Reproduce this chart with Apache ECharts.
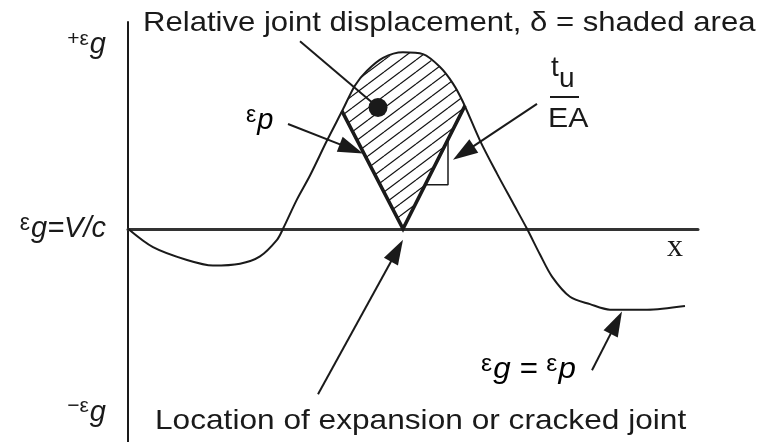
<!DOCTYPE html>
<html>
<head>
<meta charset="utf-8">
<script src="https://cdn.jsdelivr.net/npm/echarts@6/dist/echarts.min.js"></script>
<style>
html, body { margin: 0; padding: 0; background: #fff; }
#main { width: 771px; height: 442px; }
</style>
</head>
<body>
<div id="main"></div>
<script>
// ground strain along the pipe (y in units of eps_g)
var strainX = [0, 2.5, 5.9, 8.5, 11.2, 13.2, 14.9, 15.5, 16.9, 18.2, 19.9, 21.5, 22.7, 23.9, 25.5, 27.5,
    29.5, 31.2, 32.5, 33.5, 35.2, 36.9, 38.5, 39.9, 41.2, 42.4, 44.2, 46.2, 48.2, 51.9, 55.7];
var strainY = [0, -0.10, -0.17, -0.20, -0.19, -0.15, -0.06, 0.0, 0.16, 0.29, 0.48, 0.65, 0.78, 0.86, 0.93, 0.96,
    0.95, 0.88, 0.79, 0.69, 0.48, 0.30, 0.14, 0.0, -0.14, -0.26, -0.37, -0.41, -0.44, -0.44, -0.42];

// pipe strain εp, V at the joint
var pipeX = [21.4, 27.5, 33.7];
var pipeY = [0.64, 0, 0.67];

// slope tu/EA triangle
var slopeX = [29.7, 32.0, 32.0];
var slopeY = [0.24, 0.24, 0.486];

// dot in the shaded area
var dotPoint = [25.0, 0.66];

// arrows: start, tip, head or not
var arrowFrom = [[17.2, 1.02], [16.0, 0.57], [40.9, 0.68], [19.0, -0.90], [46.4, -0.77]];
var arrowTo = [[25.0, 0.66], [23.5, 0.41], [32.5, 0.375], [27.5, -0.06], [49.4, -0.45]];
var arrowHead = [0, 1, 1, 1, 1];

// y axis ticks
var yTickValues = [1, 0, -1];
var yTickLabels = ['{s|+ε}{g|g}', '{e|ε}{g|g=V/c}', '{s|−ε}{g|g}'];

var INK = '#1a1a1a';
var SANS = '"Liberation Sans", Arial, sans-serif';

function zip(xs, ys) {
    return xs.map(function (x, i) { return [x, ys[i]]; });
}

// shaded area = between strain curve and the V
var hatchPoly = [[pipeX[0], pipeY[0]]];
strainX.forEach(function (x, i) {
    if (x > pipeX[0] && x < pipeX[2]) hatchPoly.push([x, strainY[i]]);
});
hatchPoly.push([pipeX[2], pipeY[2]]);
hatchPoly.push([pipeX[1], pipeY[1]]);

function makeHatch() {
    var c = document.createElement('canvas');
    c.width = 16;
    c.height = 12;
    var ctx = c.getContext('2d');
    ctx.strokeStyle = '#111';
    ctx.lineWidth = 1.2;
    [-12, 0, 12].forEach(function (oy) {
        ctx.beginPath();
        ctx.moveTo(0, 12 + oy);
        ctx.lineTo(16, oy);
        ctx.stroke();
    });
    return c;
}
var hatchImg = makeHatch();

function renderHatch(params, api) {
    var pts = hatchPoly.map(function (p) { return api.coord(p); });
    return {
        type: 'polygon',
        shape: { points: pts },
        style: { fill: { image: hatchImg, repeat: 'repeat' }, stroke: null }
    };
}

function renderArrow(params, api) {
    var a = api.coord([api.value(0), api.value(1)]);
    var b = api.coord([api.value(2), api.value(3)]);
    var dx = b[0] - a[0], dy = b[1] - a[1];
    var len = Math.sqrt(dx * dx + dy * dy);
    var ux = dx / len, uy = dy / len;
    var end = b;
    var kids = [];
    if (api.value(4)) {
        var hl = 25, hw = 8;
        var bx = b[0] - ux * hl, by = b[1] - uy * hl;
        end = [bx + ux * 3, by + uy * 3];
        kids.push({
            type: 'polygon',
            shape: { points: [b, [bx - uy * hw, by + ux * hw], [bx + uy * hw, by - ux * hw]] },
            style: { fill: INK }
        });
    }
    kids.unshift({
        type: 'line',
        shape: { x1: a[0], y1: a[1], x2: end[0], y2: end[1] },
        style: { stroke: INK, lineWidth: 2 }
    });
    return { type: 'group', children: kids };
}

// small raised ε / + / − next to the big italic letter
var epsRich = {
    e: { fontFamily: SANS, fontSize: 23, color: INK, padding: [0, 1, 10, 0] },
    s: { fontFamily: SANS, fontSize: 21, color: INK, padding: [0, 1, 12, 0] },
    g: { fontFamily: SANS, fontSize: 29, fontStyle: 'italic', color: INK }
};

var chart = echarts.init(document.getElementById('main'));

var option = {
    animation: false,
    backgroundColor: '#fff',
    grid: { left: 128, right: 73, top: 22, bottom: 0 },
    xAxis: {
        type: 'value',
        min: 0,
        max: 57,
        axisLine: { show: true, onZero: true, lineStyle: { color: '#333', width: 3 } },
        axisTick: { show: false },
        axisLabel: { show: false },
        splitLine: { show: false }
    },
    yAxis: {
        type: 'value',
        min: -1.16,
        max: 1.125,
        axisLine: { show: true, lineStyle: { color: INK, width: 2 } },
        axisTick: { show: false },
        splitLine: { show: false },
        axisLabel: {
            customValues: yTickValues,
            margin: 22,
            formatter: function (v) {
                return yTickLabels[yTickValues.indexOf(v)];
            },
            rich: epsRich
        }
    },
    series: [
        {
            type: 'custom',
            name: 'shaded',
            renderItem: renderHatch,
            data: [[pipeX[1], pipeY[1]]],
            z: 1,
            silent: true
        },
        {
            type: 'line',
            name: 'ground strain',
            data: zip(strainX, strainY),
            smooth: 0.3,
            symbol: 'none',
            lineStyle: { color: INK, width: 2 },
            z: 2
        },
        {
            type: 'line',
            name: 'pipe strain',
            data: zip(pipeX, pipeY),
            symbol: 'none',
            lineStyle: { color: INK, width: 3.5, join: 'miter' },
            z: 3
        },
        {
            type: 'line',
            name: 'slope',
            data: zip(slopeX, slopeY),
            symbol: 'none',
            lineStyle: { color: INK, width: 1.5 },
            z: 3
        },
        {
            type: 'custom',
            name: 'arrows',
            renderItem: renderArrow,
            encode: { x: [0, 2], y: [1, 3] },
            data: arrowFrom.map(function (f, i) {
                return [f[0], f[1], arrowTo[i][0], arrowTo[i][1], arrowHead[i]];
            }),
            z: 4
        },
        {
            type: 'scatter',
            name: 'dot',
            data: [dotPoint],
            symbolSize: 19,
            itemStyle: { color: INK, opacity: 1 },
            z: 5
        }
    ],
    graphic: [
        {
            type: 'text', x: 143, y: 23, scaleX: 1.11,
            style: {
                text: 'Relative joint displacement, δ = shaded area',
                font: '28px ' + SANS, fill: INK,
                textAlign: 'left', textVerticalAlign: 'middle', align: 'left', verticalAlign: 'middle'
            }
        },
        {
            type: 'text', x: 155, y: 421, scaleX: 1.13,
            style: {
                text: 'Location of expansion or cracked joint',
                font: '28px ' + SANS, fill: INK,
                textAlign: 'left', textVerticalAlign: 'middle', align: 'left', verticalAlign: 'middle'
            }
        },
        {
            type: 'text', x: 246, y: 121,
            style: {
                text: '{e|ε}{g|p}', rich: epsRich,
                textAlign: 'left', textVerticalAlign: 'middle', align: 'left', verticalAlign: 'middle'
            }
        },
        {
            type: 'text', x: 481, y: 370, scaleX: 1.08,
            style: {
                text: '{e|ε}{g|g = }{e|ε}{g|p}', rich: epsRich,
                textAlign: 'left', textVerticalAlign: 'middle', align: 'left', verticalAlign: 'middle'
            }
        },
        {
            type: 'text', x: 551, y: 82,
            style: {
                text: 't', font: '28px ' + SANS, fill: INK,
                textAlign: 'left', textVerticalAlign: 'bottom', align: 'left', verticalAlign: 'bottom'
            }
        },
        {
            type: 'text', x: 559, y: 93,
            style: {
                text: 'u', font: '28px ' + SANS, fill: INK,
                textAlign: 'left', textVerticalAlign: 'bottom', align: 'left', verticalAlign: 'bottom'
            }
        },
        {
            type: 'line',
            shape: { x1: 550, y1: 97, x2: 579, y2: 97 },
            style: { stroke: INK, lineWidth: 2 }
        },
        {
            type: 'text', x: 548, y: 119, scaleX: 1.08,
            style: {
                text: 'EA', font: '28px ' + SANS, fill: INK,
                textAlign: 'left', textVerticalAlign: 'middle', align: 'left', verticalAlign: 'middle'
            }
        },
        {
            type: 'text', x: 675, y: 248,
            style: {
                text: 'x', font: '32px "Liberation Serif", serif', fill: INK,
                textAlign: 'center', textVerticalAlign: 'middle', align: 'center', verticalAlign: 'middle'
            }
        }
    ]
};

chart.setOption(option);
</script>
</body>
</html>
